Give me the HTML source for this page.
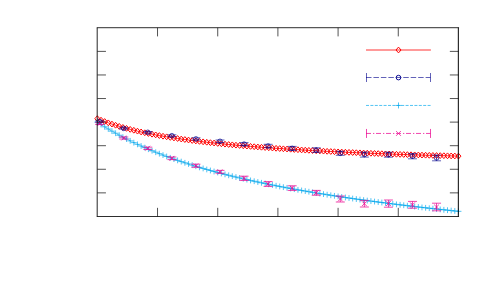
<!DOCTYPE html><html><head><meta charset="utf-8"><style>html,body{margin:0;padding:0;background:#fff}body{width:500px;height:300px;overflow:hidden;font-family:"Liberation Sans",sans-serif}svg{display:block}</style></head><body>
<svg width="500" height="300" viewBox="0 0 500 300">
<rect width="500" height="300" fill="#fff"/>
<g stroke="#ff0000" stroke-width="0.8" fill="none">
<polyline points="97.35,118.68 101.00,120.15 104.64,121.53 108.29,122.84 111.94,124.08 115.59,125.25 119.23,126.36 122.88,127.41 126.53,128.41 130.18,129.37 133.82,130.27 137.47,131.14 141.12,131.96 144.77,132.75 148.41,133.50 152.06,134.22 155.71,134.91 159.36,135.57 163.00,136.21 166.65,136.82 170.30,137.40 173.95,137.97 177.59,138.51 181.24,139.04 184.89,139.54 188.54,140.03 192.18,140.50 195.83,140.96 199.48,141.40 203.13,141.83 206.77,142.25 210.42,142.65 214.07,143.04 217.72,143.42 221.36,143.79 225.01,144.15 228.66,144.50 232.31,144.84 235.95,145.17 239.60,145.49 243.25,145.81 246.90,146.11 250.54,146.41 254.19,146.70 257.84,146.99 261.49,147.27 265.13,147.54 268.78,147.80 272.43,148.06 276.08,148.31 279.72,148.56 283.37,148.80 287.02,149.04 290.67,149.27 294.31,149.50 297.96,149.72 301.61,149.93 305.26,150.15 308.90,150.35 312.55,150.56 316.20,150.76 319.85,150.95 323.49,151.14 327.14,151.33 330.79,151.51 334.44,151.69 338.08,151.87 341.73,152.04 345.38,152.21 349.03,152.38 352.67,152.54 356.32,152.70 359.97,152.85 363.62,153.01 367.26,153.16 370.91,153.30 374.56,153.45 378.21,153.59 381.85,153.73 385.50,153.87 389.15,154.00 392.80,154.13 396.44,154.26 400.09,154.39 403.74,154.51 407.39,154.63 411.03,154.75 414.68,154.87 418.33,154.98 421.98,155.09 425.62,155.20 429.27,155.31 432.92,155.42 436.57,155.52 440.21,155.62 443.86,155.72 447.51,155.82 451.16,155.92 454.80,156.01 458.45,156.11"/>
<path d="M97.35 115.78l2.5 2.9l-2.5 2.9l-2.5 -2.9zM101.00 117.25l2.5 2.9l-2.5 2.9l-2.5 -2.9zM104.64 118.63l2.5 2.9l-2.5 2.9l-2.5 -2.9zM108.29 119.94l2.5 2.9l-2.5 2.9l-2.5 -2.9zM111.94 121.18l2.5 2.9l-2.5 2.9l-2.5 -2.9zM115.59 122.35l2.5 2.9l-2.5 2.9l-2.5 -2.9zM119.23 123.46l2.5 2.9l-2.5 2.9l-2.5 -2.9zM122.88 124.51l2.5 2.9l-2.5 2.9l-2.5 -2.9zM126.53 125.51l2.5 2.9l-2.5 2.9l-2.5 -2.9zM130.18 126.47l2.5 2.9l-2.5 2.9l-2.5 -2.9zM133.82 127.37l2.5 2.9l-2.5 2.9l-2.5 -2.9zM137.47 128.24l2.5 2.9l-2.5 2.9l-2.5 -2.9zM141.12 129.06l2.5 2.9l-2.5 2.9l-2.5 -2.9zM144.77 129.85l2.5 2.9l-2.5 2.9l-2.5 -2.9zM148.41 130.60l2.5 2.9l-2.5 2.9l-2.5 -2.9zM152.06 131.32l2.5 2.9l-2.5 2.9l-2.5 -2.9zM155.71 132.01l2.5 2.9l-2.5 2.9l-2.5 -2.9zM159.36 132.67l2.5 2.9l-2.5 2.9l-2.5 -2.9zM163.00 133.31l2.5 2.9l-2.5 2.9l-2.5 -2.9zM166.65 133.92l2.5 2.9l-2.5 2.9l-2.5 -2.9zM170.30 134.50l2.5 2.9l-2.5 2.9l-2.5 -2.9zM173.95 135.07l2.5 2.9l-2.5 2.9l-2.5 -2.9zM177.59 135.61l2.5 2.9l-2.5 2.9l-2.5 -2.9zM181.24 136.14l2.5 2.9l-2.5 2.9l-2.5 -2.9zM184.89 136.64l2.5 2.9l-2.5 2.9l-2.5 -2.9zM188.54 137.13l2.5 2.9l-2.5 2.9l-2.5 -2.9zM192.18 137.60l2.5 2.9l-2.5 2.9l-2.5 -2.9zM195.83 138.06l2.5 2.9l-2.5 2.9l-2.5 -2.9zM199.48 138.50l2.5 2.9l-2.5 2.9l-2.5 -2.9zM203.13 138.93l2.5 2.9l-2.5 2.9l-2.5 -2.9zM206.77 139.35l2.5 2.9l-2.5 2.9l-2.5 -2.9zM210.42 139.75l2.5 2.9l-2.5 2.9l-2.5 -2.9zM214.07 140.14l2.5 2.9l-2.5 2.9l-2.5 -2.9zM217.72 140.52l2.5 2.9l-2.5 2.9l-2.5 -2.9zM221.36 140.89l2.5 2.9l-2.5 2.9l-2.5 -2.9zM225.01 141.25l2.5 2.9l-2.5 2.9l-2.5 -2.9zM228.66 141.60l2.5 2.9l-2.5 2.9l-2.5 -2.9zM232.31 141.94l2.5 2.9l-2.5 2.9l-2.5 -2.9zM235.95 142.27l2.5 2.9l-2.5 2.9l-2.5 -2.9zM239.60 142.59l2.5 2.9l-2.5 2.9l-2.5 -2.9zM243.25 142.91l2.5 2.9l-2.5 2.9l-2.5 -2.9zM246.90 143.21l2.5 2.9l-2.5 2.9l-2.5 -2.9zM250.54 143.51l2.5 2.9l-2.5 2.9l-2.5 -2.9zM254.19 143.80l2.5 2.9l-2.5 2.9l-2.5 -2.9zM257.84 144.09l2.5 2.9l-2.5 2.9l-2.5 -2.9zM261.49 144.37l2.5 2.9l-2.5 2.9l-2.5 -2.9zM265.13 144.64l2.5 2.9l-2.5 2.9l-2.5 -2.9zM268.78 144.90l2.5 2.9l-2.5 2.9l-2.5 -2.9zM272.43 145.16l2.5 2.9l-2.5 2.9l-2.5 -2.9zM276.08 145.41l2.5 2.9l-2.5 2.9l-2.5 -2.9zM279.72 145.66l2.5 2.9l-2.5 2.9l-2.5 -2.9zM283.37 145.90l2.5 2.9l-2.5 2.9l-2.5 -2.9zM287.02 146.14l2.5 2.9l-2.5 2.9l-2.5 -2.9zM290.67 146.37l2.5 2.9l-2.5 2.9l-2.5 -2.9zM294.31 146.60l2.5 2.9l-2.5 2.9l-2.5 -2.9zM297.96 146.82l2.5 2.9l-2.5 2.9l-2.5 -2.9zM301.61 147.03l2.5 2.9l-2.5 2.9l-2.5 -2.9zM305.26 147.25l2.5 2.9l-2.5 2.9l-2.5 -2.9zM308.90 147.45l2.5 2.9l-2.5 2.9l-2.5 -2.9zM312.55 147.66l2.5 2.9l-2.5 2.9l-2.5 -2.9zM316.20 147.86l2.5 2.9l-2.5 2.9l-2.5 -2.9zM319.85 148.05l2.5 2.9l-2.5 2.9l-2.5 -2.9zM323.49 148.24l2.5 2.9l-2.5 2.9l-2.5 -2.9zM327.14 148.43l2.5 2.9l-2.5 2.9l-2.5 -2.9zM330.79 148.61l2.5 2.9l-2.5 2.9l-2.5 -2.9zM334.44 148.79l2.5 2.9l-2.5 2.9l-2.5 -2.9zM338.08 148.97l2.5 2.9l-2.5 2.9l-2.5 -2.9zM341.73 149.14l2.5 2.9l-2.5 2.9l-2.5 -2.9zM345.38 149.31l2.5 2.9l-2.5 2.9l-2.5 -2.9zM349.03 149.48l2.5 2.9l-2.5 2.9l-2.5 -2.9zM352.67 149.64l2.5 2.9l-2.5 2.9l-2.5 -2.9zM356.32 149.80l2.5 2.9l-2.5 2.9l-2.5 -2.9zM359.97 149.95l2.5 2.9l-2.5 2.9l-2.5 -2.9zM363.62 150.11l2.5 2.9l-2.5 2.9l-2.5 -2.9zM367.26 150.26l2.5 2.9l-2.5 2.9l-2.5 -2.9zM370.91 150.40l2.5 2.9l-2.5 2.9l-2.5 -2.9zM374.56 150.55l2.5 2.9l-2.5 2.9l-2.5 -2.9zM378.21 150.69l2.5 2.9l-2.5 2.9l-2.5 -2.9zM381.85 150.83l2.5 2.9l-2.5 2.9l-2.5 -2.9zM385.50 150.97l2.5 2.9l-2.5 2.9l-2.5 -2.9zM389.15 151.10l2.5 2.9l-2.5 2.9l-2.5 -2.9zM392.80 151.23l2.5 2.9l-2.5 2.9l-2.5 -2.9zM396.44 151.36l2.5 2.9l-2.5 2.9l-2.5 -2.9zM400.09 151.49l2.5 2.9l-2.5 2.9l-2.5 -2.9zM403.74 151.61l2.5 2.9l-2.5 2.9l-2.5 -2.9zM407.39 151.73l2.5 2.9l-2.5 2.9l-2.5 -2.9zM411.03 151.85l2.5 2.9l-2.5 2.9l-2.5 -2.9zM414.68 151.97l2.5 2.9l-2.5 2.9l-2.5 -2.9zM418.33 152.08l2.5 2.9l-2.5 2.9l-2.5 -2.9zM421.98 152.19l2.5 2.9l-2.5 2.9l-2.5 -2.9zM425.62 152.30l2.5 2.9l-2.5 2.9l-2.5 -2.9zM429.27 152.41l2.5 2.9l-2.5 2.9l-2.5 -2.9zM432.92 152.52l2.5 2.9l-2.5 2.9l-2.5 -2.9zM436.57 152.62l2.5 2.9l-2.5 2.9l-2.5 -2.9zM440.21 152.72l2.5 2.9l-2.5 2.9l-2.5 -2.9zM443.86 152.82l2.5 2.9l-2.5 2.9l-2.5 -2.9zM447.51 152.92l2.5 2.9l-2.5 2.9l-2.5 -2.9zM451.16 153.02l2.5 2.9l-2.5 2.9l-2.5 -2.9zM454.80 153.11l2.5 2.9l-2.5 2.9l-2.5 -2.9zM458.45 153.21l2.5 2.9l-2.5 2.9l-2.5 -2.9z" stroke-width="1.0"/>
</g>
<g stroke="#00008b" stroke-width="0.62" fill="none">
<path d="M99.70 120.90V122.10M95.20 120.90h9.0M95.20 122.10h9.0"/>
<circle cx="99.70" cy="121.50" r="2.3" stroke-width="0.7"/>
<path d="M123.76 127.70V129.10M119.26 127.70h9.0M119.26 129.10h9.0"/>
<circle cx="123.76" cy="128.40" r="2.3" stroke-width="0.7"/>
<path d="M147.82 131.50V133.10M143.32 131.50h9.0M143.32 133.10h9.0"/>
<circle cx="147.82" cy="132.30" r="2.3" stroke-width="0.7"/>
<path d="M171.88 134.80V136.60M167.38 134.80h9.0M167.38 136.60h9.0"/>
<circle cx="171.88" cy="135.70" r="2.3" stroke-width="0.7"/>
<path d="M195.94 137.80V140.00M191.44 137.80h9.0M191.44 140.00h9.0"/>
<circle cx="195.94" cy="138.90" r="2.3" stroke-width="0.7"/>
<path d="M220.00 140.00V142.60M215.50 140.00h9.0M215.50 142.60h9.0"/>
<circle cx="220.00" cy="141.30" r="2.3" stroke-width="0.7"/>
<path d="M244.06 142.60V145.60M239.56 142.60h9.0M239.56 145.60h9.0"/>
<circle cx="244.06" cy="144.10" r="2.3" stroke-width="0.7"/>
<path d="M268.12 144.30V147.70M263.62 144.30h9.0M263.62 147.70h9.0"/>
<circle cx="268.12" cy="146.00" r="2.3" stroke-width="0.7"/>
<path d="M292.18 146.40V150.40M287.68 146.40h9.0M287.68 150.40h9.0"/>
<circle cx="292.18" cy="148.40" r="2.3" stroke-width="0.7"/>
<path d="M316.24 147.80V152.40M311.74 147.80h9.0M311.74 152.40h9.0"/>
<circle cx="316.24" cy="150.10" r="2.3" stroke-width="0.7"/>
<path d="M340.30 151.30V155.30M335.80 151.30h9.0M335.80 155.30h9.0"/>
<circle cx="340.30" cy="153.30" r="2.3" stroke-width="0.7"/>
<path d="M364.36 152.10V157.10M359.86 152.10h9.0M359.86 157.10h9.0"/>
<circle cx="364.36" cy="154.60" r="2.3" stroke-width="0.7"/>
<path d="M388.42 152.20V157.20M383.92 152.20h9.0M383.92 157.20h9.0"/>
<circle cx="388.42" cy="154.70" r="2.3" stroke-width="0.7"/>
<path d="M412.48 153.60V158.80M407.98 153.60h9.0M407.98 158.80h9.0"/>
<circle cx="412.48" cy="156.20" r="2.3" stroke-width="0.7"/>
<path d="M436.54 155.00V160.80M432.04 155.00h9.0M432.04 160.80h9.0"/>
<circle cx="436.54" cy="157.90" r="2.3" stroke-width="0.7"/>
</g>
<g stroke="#00a6ec" stroke-width="0.68" fill="none">
<polyline points="97.35,122.17 101.00,124.53 104.64,126.81 108.29,129.01 111.94,131.15 115.59,133.22 119.23,135.22 122.88,137.16 126.53,139.04 130.18,140.86 133.82,142.63 137.47,144.35 141.12,146.02 144.77,147.64 148.41,149.21 152.06,150.74 155.71,152.23 159.36,153.68 163.00,155.09 166.65,156.46 170.30,157.80 173.95,159.10 177.59,160.37 181.24,161.60 184.89,162.81 188.54,163.98 192.18,165.13 195.83,166.26 199.48,167.35 203.13,168.42 206.77,169.47 210.42,170.49 214.07,171.49 217.72,172.47 221.36,173.43 225.01,174.37 228.66,175.29 232.31,176.19 235.95,177.07 239.60,177.93 243.25,178.78 246.90,179.61 250.54,180.43 254.19,181.23 257.84,182.02 261.49,182.79 265.13,183.55 268.78,184.30 272.43,185.03 276.08,185.75 279.72,186.46 283.37,187.15 287.02,187.84 290.67,188.51 294.31,189.17 297.96,189.83 301.61,190.47 305.26,191.10 308.90,191.73 312.55,192.34 316.20,192.95 319.85,193.54 323.49,194.13 327.14,194.71 330.79,195.28 334.44,195.84 338.08,196.40 341.73,196.95 345.38,197.49 349.03,198.02 352.67,198.55 356.32,199.07 359.97,199.58 363.62,200.09 367.26,200.59 370.91,201.08 374.56,201.57 378.21,202.05 381.85,202.52 385.50,202.99 389.15,203.46 392.80,203.92 396.44,204.37 400.09,204.82 403.74,205.26 407.39,205.70 411.03,206.13 414.68,206.56 418.33,206.98 421.98,207.40 425.62,207.81 429.27,208.22 432.92,208.63 436.57,209.03 440.21,209.42 443.86,209.81 447.51,210.20 451.16,210.58 454.80,210.96 458.45,211.34" stroke-dasharray="3 1.5"/>
<path d="M94.35 122.17h6M97.35 119.27v5.8M98.00 124.53h6M101.00 121.63v5.8M101.64 126.81h6M104.64 123.91v5.8M105.29 129.01h6M108.29 126.11v5.8M108.94 131.15h6M111.94 128.25v5.8M112.59 133.22h6M115.59 130.32v5.8M116.23 135.22h6M119.23 132.32v5.8M119.88 137.16h6M122.88 134.26v5.8M123.53 139.04h6M126.53 136.14v5.8M127.18 140.86h6M130.18 137.96v5.8M130.82 142.63h6M133.82 139.73v5.8M134.47 144.35h6M137.47 141.45v5.8M138.12 146.02h6M141.12 143.12v5.8M141.77 147.64h6M144.77 144.74v5.8M145.41 149.21h6M148.41 146.31v5.8M149.06 150.74h6M152.06 147.84v5.8M152.71 152.23h6M155.71 149.33v5.8M156.36 153.68h6M159.36 150.78v5.8M160.00 155.09h6M163.00 152.19v5.8M163.65 156.46h6M166.65 153.56v5.8M167.30 157.80h6M170.30 154.90v5.8M170.95 159.10h6M173.95 156.20v5.8M174.59 160.37h6M177.59 157.47v5.8M178.24 161.60h6M181.24 158.70v5.8M181.89 162.81h6M184.89 159.91v5.8M185.54 163.98h6M188.54 161.08v5.8M189.18 165.13h6M192.18 162.23v5.8M192.83 166.26h6M195.83 163.36v5.8M196.48 167.35h6M199.48 164.45v5.8M200.13 168.42h6M203.13 165.52v5.8M203.77 169.47h6M206.77 166.57v5.8M207.42 170.49h6M210.42 167.59v5.8M211.07 171.49h6M214.07 168.59v5.8M214.72 172.47h6M217.72 169.57v5.8M218.36 173.43h6M221.36 170.53v5.8M222.01 174.37h6M225.01 171.47v5.8M225.66 175.29h6M228.66 172.39v5.8M229.31 176.19h6M232.31 173.29v5.8M232.95 177.07h6M235.95 174.17v5.8M236.60 177.93h6M239.60 175.03v5.8M240.25 178.78h6M243.25 175.88v5.8M243.90 179.61h6M246.90 176.71v5.8M247.54 180.43h6M250.54 177.53v5.8M251.19 181.23h6M254.19 178.33v5.8M254.84 182.02h6M257.84 179.12v5.8M258.49 182.79h6M261.49 179.89v5.8M262.13 183.55h6M265.13 180.65v5.8M265.78 184.30h6M268.78 181.40v5.8M269.43 185.03h6M272.43 182.13v5.8M273.08 185.75h6M276.08 182.85v5.8M276.72 186.46h6M279.72 183.56v5.8M280.37 187.15h6M283.37 184.25v5.8M284.02 187.84h6M287.02 184.94v5.8M287.67 188.51h6M290.67 185.61v5.8M291.31 189.17h6M294.31 186.27v5.8M294.96 189.83h6M297.96 186.93v5.8M298.61 190.47h6M301.61 187.57v5.8M302.26 191.10h6M305.26 188.20v5.8M305.90 191.73h6M308.90 188.83v5.8M309.55 192.34h6M312.55 189.44v5.8M313.20 192.95h6M316.20 190.05v5.8M316.85 193.54h6M319.85 190.64v5.8M320.49 194.13h6M323.49 191.23v5.8M324.14 194.71h6M327.14 191.81v5.8M327.79 195.28h6M330.79 192.38v5.8M331.44 195.84h6M334.44 192.94v5.8M335.08 196.40h6M338.08 193.50v5.8M338.73 196.95h6M341.73 194.05v5.8M342.38 197.49h6M345.38 194.59v5.8M346.03 198.02h6M349.03 195.12v5.8M349.67 198.55h6M352.67 195.65v5.8M353.32 199.07h6M356.32 196.17v5.8M356.97 199.58h6M359.97 196.68v5.8M360.62 200.09h6M363.62 197.19v5.8M364.26 200.59h6M367.26 197.69v5.8M367.91 201.08h6M370.91 198.18v5.8M371.56 201.57h6M374.56 198.67v5.8M375.21 202.05h6M378.21 199.15v5.8M378.85 202.52h6M381.85 199.62v5.8M382.50 202.99h6M385.50 200.09v5.8M386.15 203.46h6M389.15 200.56v5.8M389.80 203.92h6M392.80 201.02v5.8M393.44 204.37h6M396.44 201.47v5.8M397.09 204.82h6M400.09 201.92v5.8M400.74 205.26h6M403.74 202.36v5.8M404.39 205.70h6M407.39 202.80v5.8M408.03 206.13h6M411.03 203.23v5.8M411.68 206.56h6M414.68 203.66v5.8M415.33 206.98h6M418.33 204.08v5.8M418.98 207.40h6M421.98 204.50v5.8M422.62 207.81h6M425.62 204.91v5.8M426.27 208.22h6M429.27 205.32v5.8M429.92 208.63h6M432.92 205.73v5.8M433.57 209.03h6M436.57 206.13v5.8M437.21 209.42h6M440.21 206.52v5.8M440.86 209.81h6M443.86 206.91v5.8M444.51 210.20h6M447.51 207.30v5.8M448.16 210.58h6M451.16 207.68v5.8M451.80 210.96h6M454.80 208.06v5.8M455.45 211.34h6M458.45 208.44v5.8"/>
</g>
<g stroke="#eb0590" stroke-width="0.74" fill="none">
<path d="M99.70 122.70V124.50M95.20 122.70h9.0M95.20 124.50h9.0"/>
<path d="M97.30 121.20l4.8 4.8M97.30 126.00l4.8 -4.8"/>
<path d="M123.76 137.00V139.00M119.26 137.00h9.0M119.26 139.00h9.0"/>
<path d="M121.36 135.60l4.8 4.8M121.36 140.40l4.8 -4.8"/>
<path d="M147.82 147.15V149.45M143.32 147.15h9.0M143.32 149.45h9.0"/>
<path d="M145.42 145.90l4.8 4.8M145.42 150.70l4.8 -4.8"/>
<path d="M171.88 157.00V159.60M167.38 157.00h9.0M167.38 159.60h9.0"/>
<path d="M169.48 155.90l4.8 4.8M169.48 160.70l4.8 -4.8"/>
<path d="M195.94 164.20V167.20M191.44 164.20h9.0M191.44 167.20h9.0"/>
<path d="M193.54 163.30l4.8 4.8M193.54 168.10l4.8 -4.8"/>
<path d="M220.00 170.40V173.20M215.50 170.40h9.0M215.50 173.20h9.0"/>
<path d="M217.60 169.40l4.8 4.8M217.60 174.20l4.8 -4.8"/>
<path d="M244.06 176.20V180.40M239.56 176.20h9.0M239.56 180.40h9.0"/>
<path d="M241.66 175.90l4.8 4.8M241.66 180.70l4.8 -4.8"/>
<path d="M268.12 181.60V186.40M263.62 181.60h9.0M263.62 186.40h9.0"/>
<path d="M265.72 181.60l4.8 4.8M265.72 186.40l4.8 -4.8"/>
<path d="M292.18 185.80V190.40M287.68 185.80h9.0M287.68 190.40h9.0"/>
<path d="M289.78 185.70l4.8 4.8M289.78 190.50l4.8 -4.8"/>
<path d="M316.24 190.40V195.20M311.74 190.40h9.0M311.74 195.20h9.0"/>
<path d="M313.84 190.40l4.8 4.8M313.84 195.20l4.8 -4.8"/>
<path d="M340.30 196.00V202.00M335.80 196.00h9.0M335.80 202.00h9.0"/>
<path d="M337.90 196.60l4.8 4.8M337.90 201.40l4.8 -4.8"/>
<path d="M364.36 200.40V207.00M359.86 200.40h9.0M359.86 207.00h9.0"/>
<path d="M361.96 201.30l4.8 4.8M361.96 206.10l4.8 -4.8"/>
<path d="M388.42 200.00V207.20M383.92 200.00h9.0M383.92 207.20h9.0"/>
<path d="M386.02 201.20l4.8 4.8M386.02 206.00l4.8 -4.8"/>
<path d="M412.48 201.40V208.20M407.98 201.40h9.0M407.98 208.20h9.0"/>
<path d="M410.08 202.40l4.8 4.8M410.08 207.20l4.8 -4.8"/>
<path d="M436.54 203.20V210.80M432.04 203.20h9.0M432.04 210.80h9.0"/>
<path d="M434.14 204.60l4.8 4.8M434.14 209.40l4.8 -4.8"/>
</g>
<g stroke="#ff0000" stroke-width="0.8" fill="none"><path d="M366.0 50.0H430.9"/><path d="M398.5 47.1l2.5 2.9l-2.5 2.9l-2.5 -2.9z" stroke-width="1.0"/></g>
<g stroke="#00008b" stroke-width="0.62" fill="none"><path d="M366.0 77.5H430.5" stroke-dasharray="5.5 1.95"/><path d="M366.5 73.0v9M430.5 73.0v9"/><circle cx="398.5" cy="77.6" r="2.3" stroke-width="0.95"/></g>
<g stroke="#00a6ec" stroke-width="0.68" fill="none"><path d="M366.0 105.45H430.9" stroke-dasharray="3 1.4"/><path d="M395.5 105.45h6M398.5 102.45v6"/></g>
<g stroke="#eb0590" stroke-width="0.74" fill="none"><path d="M366.0 133.45H430.5" stroke-dasharray="5 2 1.3 1.7"/><path d="M366.5 128.95v9M430.5 128.95v9"/><path d="M396.1 131.04999999999998l4.8 4.8M396.1 135.85l4.8 -4.8"/></g>
<g stroke="#000" fill="none">
<path d="M96.75 27.7H459.05" stroke-width="1.3" stroke-opacity="0.66"/>
<path d="M97.25 27.8V216.44" stroke-width="1.3" stroke-opacity="0.66"/>
<path d="M96.75 216.44H459.05" stroke-width="1.1" stroke-opacity="0.82"/>
<path d="M458.4 27.8V216.44" stroke-width="1.2" stroke-opacity="0.82"/>
</g>
<g stroke="#000" stroke-width="0.85" fill="none" stroke-opacity="0.8">
<path d="M157.53 216.44V207.84M157.53 27.8V36.40"/>
<path d="M217.72 216.44V207.84M217.72 27.8V36.40"/>
<path d="M277.90 216.44V207.84M277.90 27.8V36.40"/>
<path d="M338.08 216.44V207.84M338.08 27.8V36.40"/>
<path d="M398.27 216.44V207.84M398.27 27.8V36.40"/>
<path d="M97.35 51.38H105.95M458.45 51.38H449.85"/>
<path d="M97.35 74.96H105.95M458.45 74.96H449.85"/>
<path d="M97.35 98.54H105.95M458.45 98.54H449.85"/>
<path d="M97.35 122.12H105.95M458.45 122.12H449.85"/>
<path d="M97.35 145.70H105.95M458.45 145.70H449.85"/>
<path d="M97.35 169.28H105.95M458.45 169.28H449.85"/>
<path d="M97.35 192.86H105.95M458.45 192.86H449.85"/>
</g>
</svg></body></html>
